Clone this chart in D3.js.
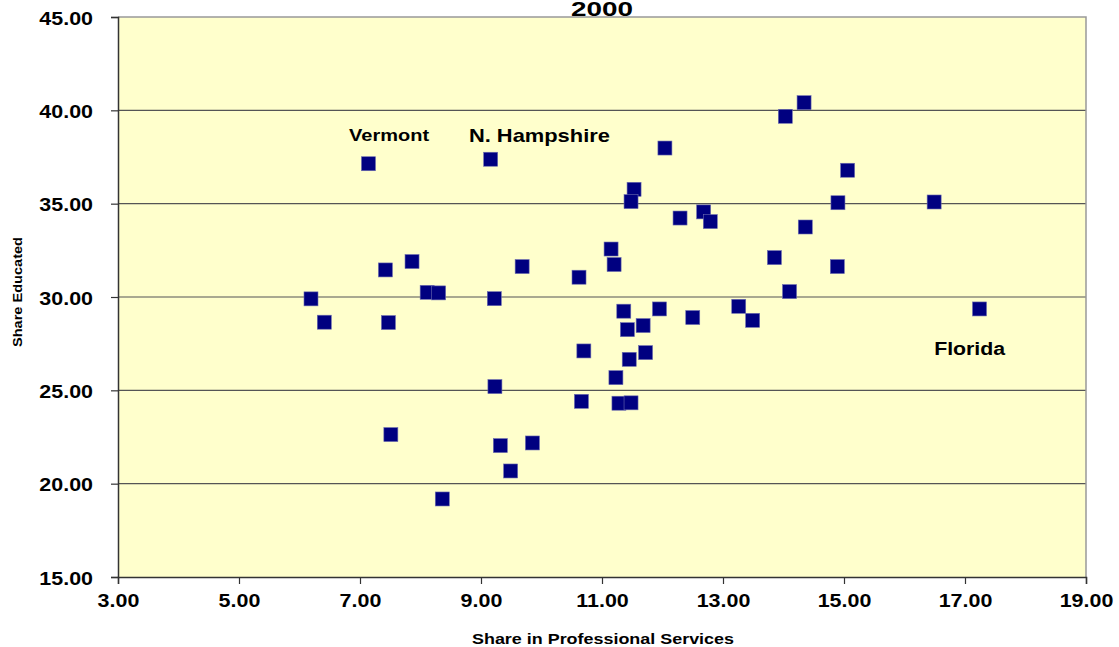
<!DOCTYPE html>
<html lang="en">
<head>
    <meta charset="UTF-8">
    <title>2000</title>
    <script src="https://d3js.org/d3.v7.min.js"></script>
    <style>
        body { margin: 0; background: #fff; }
        text { font-family: "Liberation Sans", Arial, sans-serif; font-weight: bold; fill: #000; }
    </style>
</head>
<body>
<div id="main"></div>
<script>
// data: share in professional services (x) vs share educated (y), one point per state
var shareProf = [7.14, 9.16, 12.04, 11.53, 11.48, 12.29, 11.15, 11.20, 9.68, 10.62,
                 7.86, 7.42, 8.11, 8.30, 9.22, 6.19, 6.41, 7.47, 11.36, 11.95,
                 12.50, 11.42, 11.68, 10.70, 11.45, 11.72, 11.23, 9.23, 10.66, 11.28,
                 11.48, 7.51, 9.32, 9.85, 9.49, 8.36, 14.34, 14.03, 15.06, 14.90,
                 16.49, 12.68, 12.79, 14.36, 13.85, 14.89, 14.10, 13.26, 13.49, 17.24]
var shareEdu = [37.14, 37.38, 37.98, 35.77, 35.11, 34.23, 32.57, 31.74, 31.63, 31.06,
                31.90, 31.45, 30.25, 30.22, 29.91, 29.90, 28.65, 28.63, 29.24, 29.36,
                28.90, 28.25, 28.47, 27.11, 26.66, 27.02, 25.68, 25.20, 24.41, 24.31,
                24.33, 22.63, 22.04, 22.18, 20.68, 19.18, 40.41, 39.68, 36.79, 35.05,
                35.09, 34.56, 34.04, 33.75, 32.11, 31.63, 30.29, 29.50, 28.75, 29.36]
var xTicks = [3, 5, 7, 9, 11, 13, 15, 17, 19]
var yTicks = [15, 20, 25, 30, 35, 40, 45]
// text boxes placed in data units
var noteText = ['Vermont', 'N. Hampshire', 'Florida']
var noteX = [6.82, 8.80, 16.49]
var noteY = [38.36, 38.30, 26.90]

var data = shareProf.map((v, i) => ({x: v, y: shareEdu[i]}))

var width = 1119, height = 647
// plot area edges (window.top is taken, so use own names)
var pLeft = 118, pRight = 1086, pTop = 17, pBottom = 577
var stretch = 1.13   // the original text is a bit wider than Arial

var svg = d3.select('#main').append('svg')
    .attr('width', width)
    .attr('height', height)

var xScale = d3.scaleLinear().domain([3, 19]).range([pLeft, pRight])
var yScale = d3.scaleLinear().domain([15, 45]).range([pBottom, pTop])

// widen text to match the picture
function widen(sel, k) {
    sel.each(function () {
        var w = this.getComputedTextLength()
        d3.select(this).attr('textLength', w * k).attr('lengthAdjust', 'spacingAndGlyphs')
    })
}

// plot area
svg.append('rect')
    .attr('x', pLeft).attr('y', pTop)
    .attr('width', pRight - pLeft).attr('height', pBottom - pTop)
    .attr('fill', '#ffffcc')

// gridlines
svg.append('g').selectAll('line')
    .data(yTicks.filter(d => d > 15 && d < 45))
    .enter().append('line')
    .attr('x1', pLeft).attr('x2', pRight)
    .attr('y1', d => yScale(d)).attr('y2', d => yScale(d))
    .attr('stroke', '#555').attr('stroke-width', 1.2)

// top & right border
svg.append('path')
    .attr('d', `M${pLeft},${pTop}H${pRight}V${pBottom}`)
    .attr('fill', 'none').attr('stroke', '#999').attr('stroke-width', 1.5)

// axes
var yAxis = svg.append('g')
    .attr('transform', `translate(${pLeft},0)`)
    .call(d3.axisLeft(yScale).tickValues(yTicks).tickSize(7).tickPadding(18).tickFormat(d3.format('.2f')))
var xAxis = svg.append('g')
    .attr('transform', `translate(0,${pBottom})`)
    .call(d3.axisBottom(xScale).tickValues(xTicks).tickSize(7).tickPadding(10).tickFormat(d3.format('.2f')))

svg.selectAll('.domain').attr('stroke', '#333').attr('stroke-width', 1.5)
svg.selectAll('.tick line').attr('stroke', '#333').attr('stroke-width', 1.2)
svg.selectAll('.tick text').style('font-size', '19px').style('font-family', '"Liberation Sans", Arial, sans-serif')
    .style('font-weight', 'bold').attr('fill', '#000')
yAxis.selectAll('.tick text').attr('dy', '0.37em')
widen(svg.selectAll('.tick text'), stretch)

// points
svg.append('g').selectAll('rect')
    .data(data)
    .enter().append('rect')
    .attr('x', d => xScale(d.x) - 7)
    .attr('y', d => yScale(d.y) - 7)
    .attr('width', 14).attr('height', 14)
    .attr('fill', '#000080')
    .attr('stroke', '#6c6cb0').attr('stroke-width', 0.6)

// state labels
var noteSize = [17, 19, 18]
var noteWidth = [80, 141, 71]
svg.append('g').selectAll('text')
    .data(noteText)
    .enter().append('text')
    .attr('x', (d, i) => xScale(noteX[i]))
    .attr('y', (d, i) => yScale(noteY[i]))
    .style('font-size', (d, i) => noteSize[i] + 'px')
    .attr('textLength', (d, i) => noteWidth[i])
    .attr('lengthAdjust', 'spacingAndGlyphs')
    .text(d => d)

// title
svg.append('text')
    .attr('x', (pLeft + pRight) / 2).attr('y', 16)
    .attr('text-anchor', 'middle')
    .style('font-size', '21px')
    .attr('textLength', 62).attr('lengthAdjust', 'spacingAndGlyphs')
    .text('2000')

// axis titles
svg.append('text')
    .attr('x', (pLeft + pRight) / 2 + 1).attr('y', 644)
    .attr('text-anchor', 'middle')
    .style('font-size', '15.5px')
    .attr('textLength', 262).attr('lengthAdjust', 'spacingAndGlyphs')
    .text('Share in Professional Services')

svg.append('text')
    .attr('transform', 'translate(22,292) rotate(-90)')
    .attr('text-anchor', 'middle')
    .style('font-size', '13px')
    .attr('textLength', 110).attr('lengthAdjust', 'spacingAndGlyphs')
    .text('Share Educated')
</script>
</body>
</html>
